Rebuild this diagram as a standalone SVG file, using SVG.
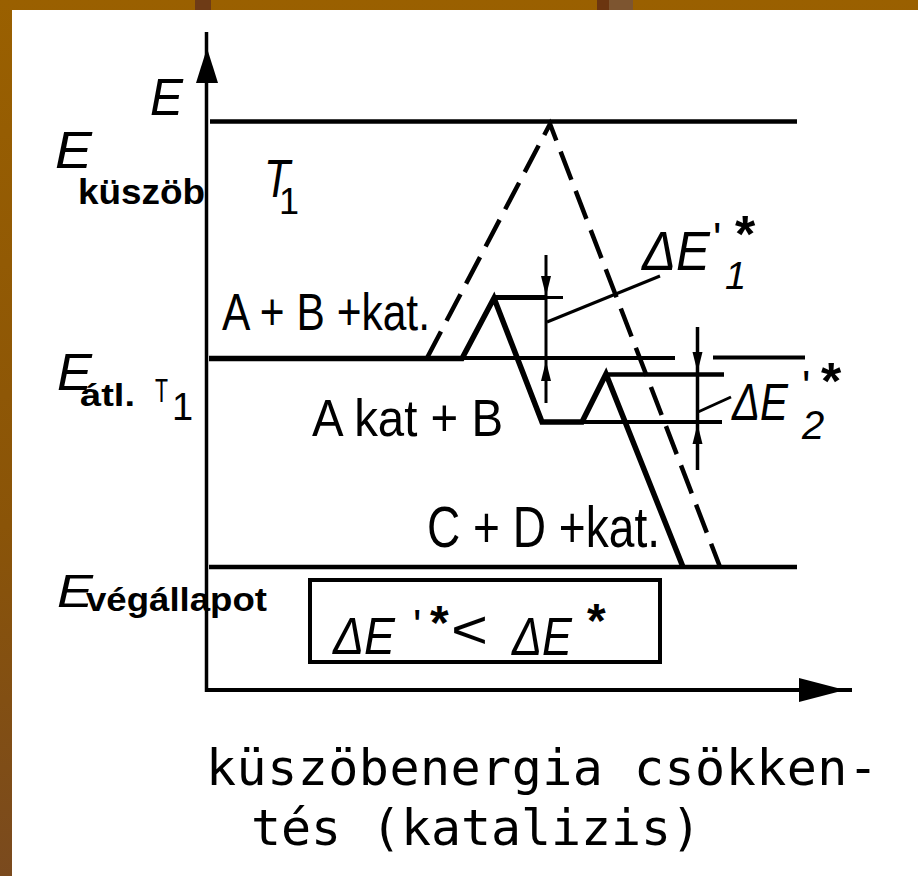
<svg xmlns="http://www.w3.org/2000/svg" width="918" height="876" viewBox="0 0 918 876">
<defs>
<linearGradient id="bg" x1="0" y1="0" x2="0" y2="1">
<stop offset="0" stop-color="#9A6000"/>
<stop offset="0.6" stop-color="#8A5408"/>
<stop offset="1" stop-color="#7A4A1E"/>
</linearGradient>
</defs>
<style>
.ln{stroke:#000;fill:none;stroke-linecap:butt}
.dash{stroke:#000;fill:none;stroke-width:4.5;stroke-dasharray:30 12}
.ah{fill:#000;stroke:none}
.lab{font-family:"Liberation Sans",Arial,sans-serif;fill:#000}
.it{font-style:italic}
.bd{font-weight:bold}
.up{font-style:normal}
.cap{font-family:"DejaVu Sans Mono","Liberation Mono",monospace;font-size:50px;fill:#000}
</style>
<rect width="918" height="876" fill="url(#bg)"/>
<rect x="195" y="0" width="16" height="10" fill="#6E3B16"/>
<rect x="597" y="0" width="12" height="10" fill="#6B3510"/>
<rect x="609" y="0" width="24" height="10" fill="#7D5530"/>
<rect x="12" y="10" width="906" height="866" fill="#fff"/>

<g id="axes">
<path class="ln" d="M206.5,32 V692" stroke-width="3.5"/>
<polygon class="ah" points="207,48 196,83 218,83"/>
<path class="ln" d="M205,690 H852" stroke-width="4"/>
<polygon class="ah" points="845,690 799,678 799,702"/>
</g>

<g id="levels">
<path class="ln" d="M210,121.5 H797" stroke-width="4.5"/>
<path class="ln" d="M462,358 H675 M713,357.5 H805" stroke-width="4"/>
<path class="ln" d="M209,567 H797" stroke-width="4.5"/>
<path class="ln" d="M494,297.5 H545" stroke-width="5"/>
<path class="ln" d="M545,297.5 H563" stroke-width="3"/>
<path class="ln" d="M606,374.5 H724" stroke-width="4.5"/>
<path class="ln" d="M542,422 H722" stroke-width="4"/>
</g>

<g id="uncatalysed">
<path class="dash" d="M427,358 L550,124 L720,567"/>
</g>

<g id="catalysed">
<path class="ln" d="M209,358.5 H462 L494,298 L542,422 H582 L606,374 L683,567" stroke-width="5.5"/>
</g>

<g id="connectors">
<path class="ln" d="M546,255 V403" stroke-width="3"/>
<polygon class="ah" points="546,296 541,276 551,276"/>
<polygon class="ah" points="546,361 541,381 551,381"/>
<path class="ln" d="M697.5,327 V470" stroke-width="3.5"/>
<polygon class="ah" points="697.5,372 692.5,352 702.5,352"/>
<polygon class="ah" points="697.5,424 692.5,444 702.5,444"/>
<path class="ln" d="M547,322 L660,276" stroke-width="3"/>
<path class="ln" d="M698,412 L731,397" stroke-width="3"/>
</g>

<g id="label-E">
<text class="lab it" x="150" y="115" font-size="52" textLength="33" lengthAdjust="spacingAndGlyphs">E</text>
</g>
<g id="label-Ekuszob">
<text class="lab it" x="55" y="168" font-size="52" textLength="37" lengthAdjust="spacingAndGlyphs">E</text>
<text class="lab bd" x="78" y="204" font-size="35" textLength="127" lengthAdjust="spacingAndGlyphs">küszöb</text>
</g>
<g id="label-T1">
<text class="lab it" x="264" y="197" font-size="54"><tspan textLength="26" lengthAdjust="spacingAndGlyphs">T</tspan><tspan class="up" x="279" y="214" font-size="36">1</tspan></text>
</g>
<g id="label-ABkat">
<text class="lab" x="222" y="330" font-size="52" textLength="208" lengthAdjust="spacingAndGlyphs">A + B +kat.</text>
</g>
<g id="label-Eatl">
<text class="lab it" x="57" y="390" font-size="52" textLength="35" lengthAdjust="spacingAndGlyphs">E</text>
<text class="lab bd" x="80" y="406" font-size="32" textLength="55" lengthAdjust="spacingAndGlyphs">átl.</text>
<text class="lab" x="155" y="402" font-size="34"><tspan textLength="13" lengthAdjust="spacingAndGlyphs">T</tspan><tspan x="172" y="420" font-size="38">1</tspan></text>
</g>
<g id="label-AkatB">
<text class="lab" x="312" y="436" font-size="52" textLength="191" lengthAdjust="spacingAndGlyphs">A kat + B</text>
</g>
<g id="label-CDkat">
<text class="lab" x="427" y="547" font-size="57" textLength="233" lengthAdjust="spacingAndGlyphs">C + D +kat.</text>
</g>
<g id="label-Evegallapot">
<text class="lab it" x="57" y="607" font-size="46" textLength="36" lengthAdjust="spacingAndGlyphs">E</text>
<text class="lab bd" x="86" y="611" font-size="34" textLength="181" lengthAdjust="spacingAndGlyphs">végállapot</text>
</g>
<g id="label-dE1">
<text class="lab it" x="642" y="270" font-size="56"><tspan textLength="68" lengthAdjust="spacingAndGlyphs">ΔE</tspan><tspan class="up" x="713" y="254" font-size="44">'</tspan><tspan x="725" y="289" font-size="38">1</tspan><tspan class="up bd" x="735" y="252" font-size="52">*</tspan></text>
</g>
<g id="label-dE2">
<text class="lab it" x="732" y="420" font-size="52"><tspan textLength="56" lengthAdjust="spacingAndGlyphs">ΔE</tspan><tspan class="up" x="802" y="402" font-size="44">'</tspan><tspan x="802" y="439" font-size="40">2</tspan><tspan class="up bd" x="821" y="399" font-size="52">*</tspan></text>
</g>
<g id="box">
<rect x="310" y="580" width="350" height="82" fill="none" stroke="#000" stroke-width="4"/>
<text class="lab it" x="333" y="654" font-size="52"><tspan textLength="62" lengthAdjust="spacingAndGlyphs">ΔE</tspan><tspan class="up" x="413" y="641" font-size="44">'</tspan><tspan class="up bd" x="430" y="639" font-size="48">*</tspan><tspan class="up" x="451" y="648" font-size="54" textLength="37" lengthAdjust="spacingAndGlyphs">&lt;</tspan><tspan x="512" y="655" font-size="54" textLength="60" lengthAdjust="spacingAndGlyphs">ΔE</tspan><tspan class="up bd" x="587" y="637" font-size="48">*</tspan></text>
</g>
<g id="caption">
<text class="cap" x="206" y="785" textLength="672" lengthAdjust="spacing">küszöbenergia csökken-</text>
<text class="cap" x="251" y="845" textLength="450" lengthAdjust="spacing">tés (katalizis)</text>
</g>
</svg>
